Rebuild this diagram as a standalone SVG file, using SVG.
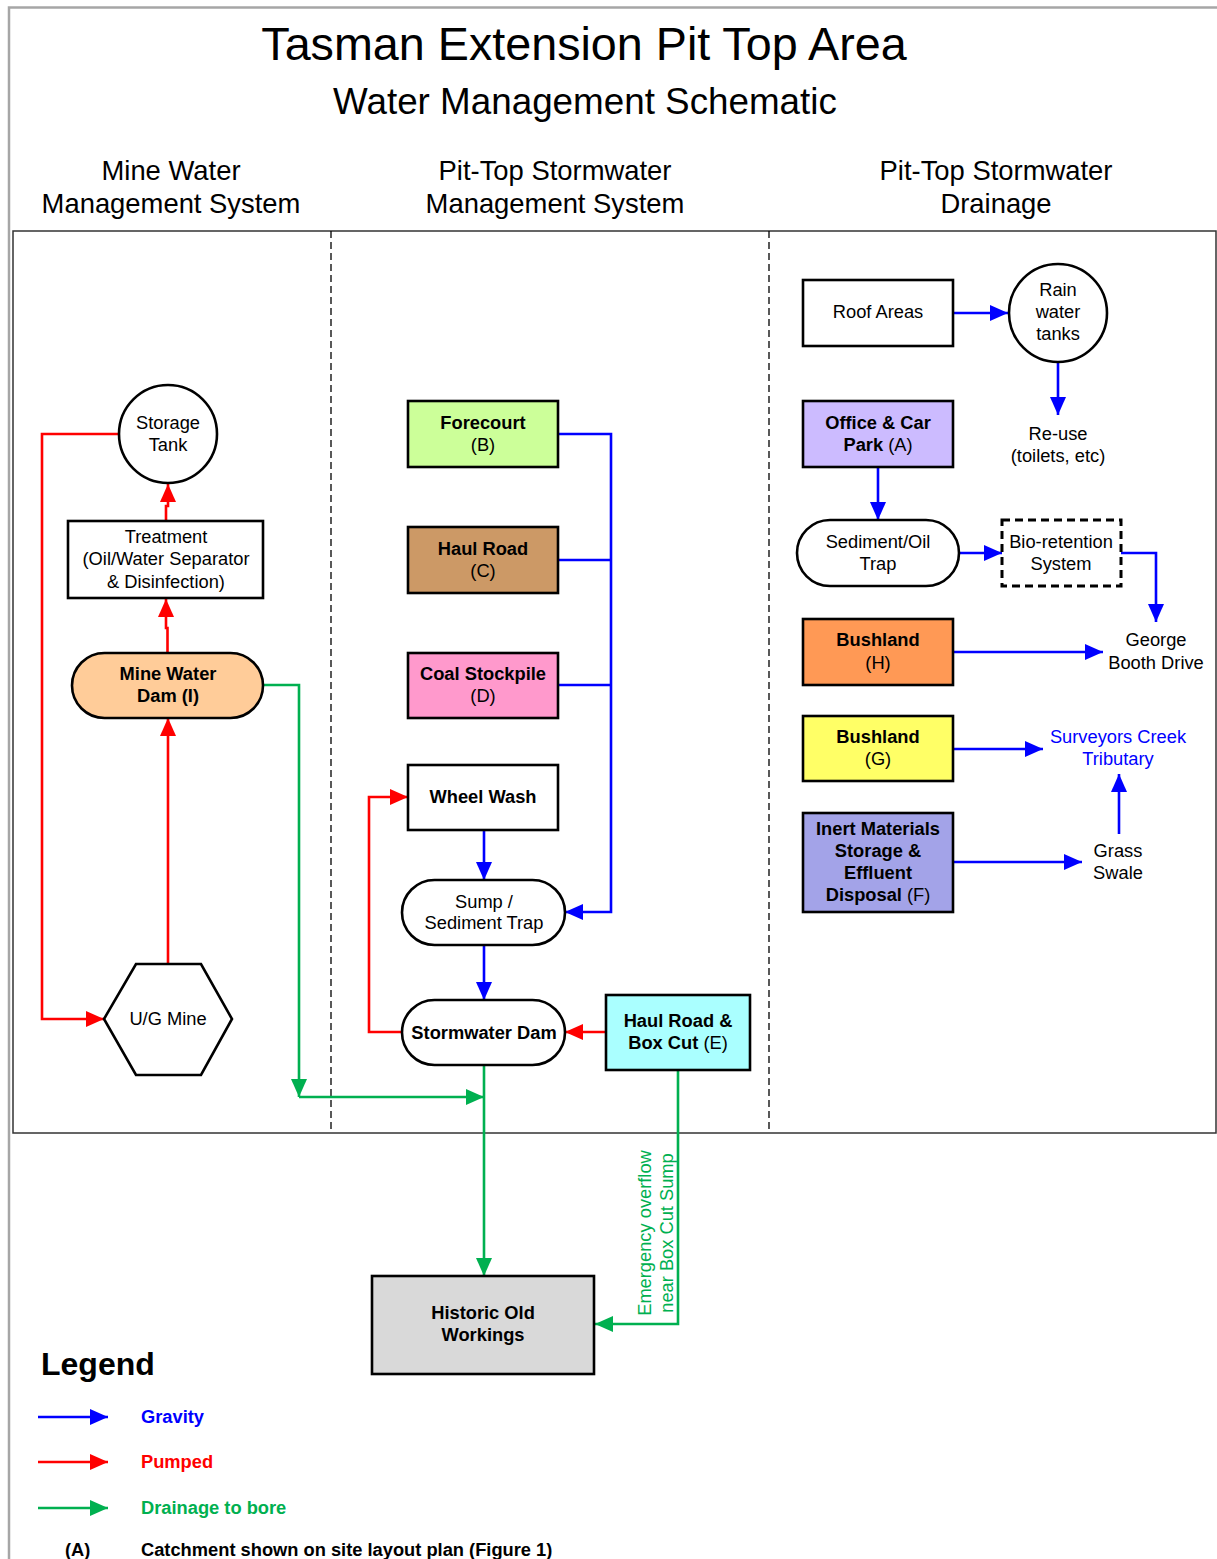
<svg xmlns="http://www.w3.org/2000/svg" width="1217" height="1559" viewBox="0 0 1217 1559">
<style>
text{font-family:"Liberation Sans",Arial,sans-serif;fill:#000}
.t{font-size:18.3px;text-anchor:middle}
.b{font-weight:bold}
.n{stroke:#000;stroke-width:2.6}
.cb{fill:none;stroke:#0000FF;stroke-width:2.6}
.cr{fill:none;stroke:#FF0000;stroke-width:2.6}
.cg{fill:none;stroke:#00B050;stroke-width:2.6}
.h1{font-size:46.7px;text-anchor:middle}
.h2{font-size:36.8px;text-anchor:middle}
.h3{font-size:27.4px;text-anchor:middle}
.lg{font-size:18.3px;font-weight:bold}
</style>
<defs>
<marker id="ab" markerUnits="userSpaceOnUse" markerWidth="18" markerHeight="16" refX="18" refY="8" orient="auto"><path d="M0,0 L18,8 L0,16 z" fill="#0000FF"/></marker>
<marker id="ar" markerUnits="userSpaceOnUse" markerWidth="18" markerHeight="16" refX="18" refY="8" orient="auto"><path d="M0,0 L18,8 L0,16 z" fill="#FF0000"/></marker>
<marker id="ag" markerUnits="userSpaceOnUse" markerWidth="18" markerHeight="16" refX="18" refY="8" orient="auto"><path d="M0,0 L18,8 L0,16 z" fill="#00B050"/></marker>
</defs>
<rect width="1217" height="1559" fill="#fff"/>
<g id="frame">
<path d="M9,1559 V7.5 H1217" fill="none" stroke="#A6A6A6" stroke-width="2.5"/>
<rect x="13" y="231" width="1203" height="902" fill="none" stroke="#333" stroke-width="1.5"/>
<line x1="331" y1="231" x2="331" y2="1133" stroke="#000" stroke-width="1.3" stroke-dasharray="7,4"/>
<line x1="769" y1="231" x2="769" y2="1133" stroke="#000" stroke-width="1.3" stroke-dasharray="7,4"/>
</g>
<g id="titles">
<text class="h1" x="584" y="60">Tasman Extension Pit Top Area</text>
<text class="h2" x="585" y="114">Water Management Schematic</text>
<text class="h3" x="171" y="180">Mine Water</text>
<text class="h3" x="171" y="213">Management System</text>
<text class="h3" x="555" y="180">Pit-Top Stormwater</text>
<text class="h3" x="555" y="213">Management System</text>
<text class="h3" x="996" y="180">Pit-Top Stormwater</text>
<text class="h3" x="996" y="213">Drainage</text>
</g>
<g id="connectors">
<path class="cr" d="M119,434 H42 V1019 H104" marker-end="url(#ar)"/>
<path class="cr" d="M168,964 V718" marker-end="url(#ar)"/>
<path class="cr" d="M167.5,653 V628 H166 V599" marker-end="url(#ar)"/>
<path class="cr" d="M166,521 V506 H168 V484" marker-end="url(#ar)"/>
<path class="cr" d="M402,1032 H369 V797 H408" marker-end="url(#ar)"/>
<path class="cr" d="M606,1032 H565" marker-end="url(#ar)"/>
<path class="cg" d="M263,685 H299 V1097" marker-end="url(#ag)"/>
<path class="cg" d="M299,1097 H484" marker-end="url(#ag)"/>
<path class="cg" d="M484,1065 V1276" marker-end="url(#ag)"/>
<path class="cg" d="M678,1070 V1324 H595" marker-end="url(#ag)"/>
<path class="cb" d="M558,434 H611 V912 H565" marker-end="url(#ab)"/>
<path class="cb" d="M558,560 H611"/>
<path class="cb" d="M558,685 H611"/>
<path class="cb" d="M484,830 V880" marker-end="url(#ab)"/>
<path class="cb" d="M484,945 V1000" marker-end="url(#ab)"/>
<path class="cb" d="M953,313 H1008" marker-end="url(#ab)"/>
<path class="cb" d="M1058,362 V415" marker-end="url(#ab)"/>
<path class="cb" d="M878,467 V520" marker-end="url(#ab)"/>
<path class="cb" d="M960,553 H1002" marker-end="url(#ab)"/>
<path class="cb" d="M1121,553 H1156 V622" marker-end="url(#ab)"/>
<path class="cb" d="M953,652 H1103" marker-end="url(#ab)"/>
<path class="cb" d="M953,749 H1043" marker-end="url(#ab)"/>
<path class="cb" d="M953,862 H1082" marker-end="url(#ab)"/>
<path class="cb" d="M1119,834 V774" marker-end="url(#ab)"/>
<text x="-1233" y="651" transform="rotate(-90)" class="t" style="fill:#00B050">Emergency overflow</text>
<text x="-1233" y="673" transform="rotate(-90)" class="t" style="fill:#00B050">near Box Cut Sump</text>
</g>
<g id="storage-tank">
<circle class="n" cx="168" cy="434" r="49" fill="#fff"/>
<text class="t" x="168" y="429">Storage</text>
<text class="t" x="168" y="451">Tank</text>
</g>
<g id="treatment">
<rect class="n" x="68" y="521" width="195" height="77" fill="#fff"/>
<text class="t" x="166" y="543">Treatment</text>
<text class="t" x="166" y="565">(Oil/Water Separator</text>
<text class="t" x="166" y="588">&amp; Disinfection)</text>
</g>
<g id="mine-water-dam">
<rect class="n" x="72" y="653" width="191" height="65" rx="32.5" fill="#FFCC99"/>
<text class="t b" x="168" y="680">Mine Water</text>
<text class="t b" x="168" y="702">Dam (I)</text>
</g>
<g id="ug-mine">
<polygon class="n" points="104,1019 136,964 201,964 232,1019 201,1075 136,1075" fill="#fff"/>
<text class="t" x="168" y="1025">U/G Mine</text>
</g>
<g id="forecourt">
<rect class="n" x="408" y="401" width="150" height="66" fill="#CCFF99"/>
<text class="t b" x="483" y="429">Forecourt</text>
<text class="t" x="483" y="451">(B)</text>
</g>
<g id="haul-road">
<rect class="n" x="408" y="527" width="150" height="66" fill="#CC9966"/>
<text class="t b" x="483" y="555">Haul Road</text>
<text class="t" x="483" y="577">(C)</text>
</g>
<g id="coal-stockpile">
<rect class="n" x="408" y="653" width="150" height="65" fill="#FF99CC"/>
<text class="t b" x="483" y="680">Coal Stockpile</text>
<text class="t" x="483" y="702">(D)</text>
</g>
<g id="wheel-wash">
<rect class="n" x="408" y="765" width="150" height="65" fill="#fff"/>
<text class="t b" x="483" y="803">Wheel Wash</text>
</g>
<g id="sump">
<rect class="n" x="402" y="880" width="163" height="65" rx="32.5" fill="#fff"/>
<text class="t" x="484" y="908">Sump /</text>
<text class="t" x="484" y="929">Sediment Trap</text>
</g>
<g id="stormwater-dam">
<rect class="n" x="402" y="1000" width="163" height="65" rx="32.5" fill="#fff"/>
<text class="t b" x="484" y="1039">Stormwater Dam</text>
</g>
<g id="haul-road-box-cut">
<rect class="n" x="606" y="995" width="144" height="75" fill="#AAFFFF"/>
<text class="t b" x="678" y="1027">Haul Road &amp;</text>
<text class="t" x="678" y="1049"><tspan class="b">Box Cut</tspan> (E)</text>
</g>
<g id="historic-old-workings">
<rect class="n" x="372" y="1276" width="222" height="98" fill="#D9D9D9"/>
<text class="t b" x="483" y="1319">Historic Old</text>
<text class="t b" x="483" y="1341">Workings</text>
</g>
<g id="roof-areas">
<rect class="n" x="803" y="280" width="150" height="66" fill="#fff"/>
<text class="t" x="878" y="318">Roof Areas</text>
</g>
<g id="rain-water-tanks">
<circle class="n" cx="1058" cy="313" r="49" fill="#fff"/>
<text class="t" x="1058" y="296">Rain</text>
<text class="t" x="1058" y="318">water</text>
<text class="t" x="1058" y="340">tanks</text>
</g>
<g id="re-use">
<text class="t" x="1058" y="440">Re-use</text>
<text class="t" x="1058" y="462">(toilets, etc)</text>
</g>
<g id="office-car-park">
<rect class="n" x="803" y="401" width="150" height="66" fill="#CCBBFF"/>
<text class="t b" x="878" y="429">Office &amp; Car</text>
<text class="t" x="878" y="451"><tspan class="b">Park</tspan> (A)</text>
</g>
<g id="sediment-oil-trap">
<rect class="n" x="797" y="520" width="162" height="66" rx="33" fill="#fff"/>
<text class="t" x="878" y="548">Sediment/Oil</text>
<text class="t" x="878" y="570">Trap</text>
</g>
<g id="bio-retention">
<rect x="1002" y="520" width="119" height="66" fill="#fff" stroke="#000" stroke-width="3" stroke-dasharray="8,5"/>
<text class="t" x="1061" y="548">Bio-retention</text>
<text class="t" x="1061" y="570">System</text>
</g>
<g id="george-booth-drive">
<text class="t" x="1156" y="646">George</text>
<text class="t" x="1156" y="669">Booth Drive</text>
</g>
<g id="bushland-h">
<rect class="n" x="803" y="619" width="150" height="66" fill="#FF9955"/>
<text class="t b" x="878" y="646">Bushland</text>
<text class="t" x="878" y="669">(H)</text>
</g>
<g id="bushland-g">
<rect class="n" x="803" y="716" width="150" height="65" fill="#FFFF66"/>
<text class="t b" x="878" y="743">Bushland</text>
<text class="t" x="878" y="765">(G)</text>
</g>
<g id="surveyors-creek">
<text class="t" x="1118" y="743" style="fill:#0000FF">Surveyors Creek</text>
<text class="t" x="1118" y="765" style="fill:#0000FF">Tributary</text>
</g>
<g id="inert-materials">
<rect class="n" x="803" y="813" width="150" height="99" fill="#A3A3E8"/>
<text class="t b" x="878" y="835">Inert Materials</text>
<text class="t b" x="878" y="857">Storage &amp;</text>
<text class="t b" x="878" y="879">Effluent</text>
<text class="t" x="878" y="901"><tspan class="b">Disposal</tspan> (F)</text>
</g>
<g id="grass-swale">
<text class="t" x="1118" y="857">Grass</text>
<text class="t" x="1118" y="879">Swale</text>
</g>
<g id="legend">
<text x="41" y="1375" style="font-size:32px;font-weight:bold">Legend</text>
<path class="cb" d="M38,1417 H108" marker-end="url(#ab)"/>
<path class="cr" d="M38,1462 H108" marker-end="url(#ar)"/>
<path class="cg" d="M38,1508 H108" marker-end="url(#ag)"/>
<text x="141" y="1423" class="lg" style="fill:#0000FF">Gravity</text>
<text x="141" y="1468" class="lg" style="fill:#FF0000">Pumped</text>
<text x="141" y="1514" class="lg" style="fill:#00B050">Drainage to bore</text>
<text x="65" y="1556" class="lg">(A)</text>
<text x="141" y="1556" class="lg">Catchment shown on site layout plan (Figure 1)</text>
</g>
</svg>
